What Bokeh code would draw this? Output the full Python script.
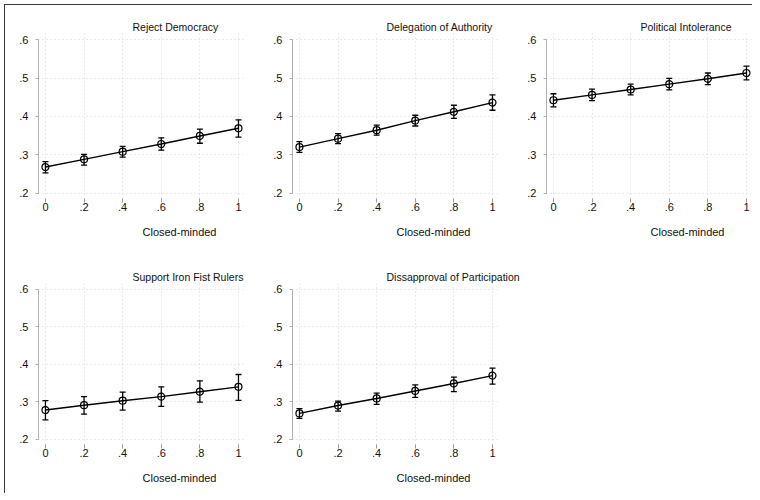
from bokeh.plotting import figure
from bokeh.layouts import column, row
from bokeh.models import (ColumnDataSource, Whisker, TeeHead, FixedTicker, Range1d,
                          Title, InlineStyleSheet)
from bokeh.embed import file_html
from bokeh.resources import INLINE

# ---------------- data ----------------
x_vals = [0.0, 0.2, 0.4, 0.6, 0.8, 1.0]
x_tick_labels = ["0", ".2", ".4", ".6", ".8", "1"]
y_ticks = [0.2, 0.3, 0.4, 0.5, 0.6]
y_tick_labels = [".2", ".3", ".4", ".5", ".6"]
x_title = "Closed-minded"

titles = ["Reject Democracy", "Delegation of Authority", "Political Intolerance",
          "Support Iron Fist Rulers", "Dissapproval of Participation"]

reject_democracy = [0.268, 0.288, 0.308, 0.328, 0.349, 0.369]
reject_democracy_lo = [0.253, 0.273, 0.294, 0.312, 0.330, 0.346]
reject_democracy_hi = [0.282, 0.301, 0.322, 0.344, 0.367, 0.391]

delegation = [0.320, 0.342, 0.364, 0.389, 0.412, 0.436]
delegation_lo = [0.306, 0.329, 0.351, 0.375, 0.395, 0.416]
delegation_hi = [0.334, 0.355, 0.377, 0.403, 0.429, 0.456]

intolerance = [0.442, 0.456, 0.470, 0.484, 0.498, 0.513]
intolerance_lo = [0.425, 0.441, 0.456, 0.469, 0.483, 0.495]
intolerance_hi = [0.459, 0.471, 0.484, 0.499, 0.513, 0.531]

iron_fist = [0.278, 0.291, 0.303, 0.314, 0.327, 0.340]
iron_fist_lo = [0.252, 0.267, 0.278, 0.288, 0.299, 0.304]
iron_fist_hi = [0.303, 0.314, 0.326, 0.340, 0.356, 0.373]

participation = [0.269, 0.290, 0.309, 0.329, 0.349, 0.370]
participation_lo = [0.256, 0.275, 0.293, 0.312, 0.327, 0.347]
participation_hi = [0.282, 0.302, 0.323, 0.345, 0.366, 0.390]

series = [
    (reject_democracy, reject_democracy_lo, reject_democracy_hi),
    (delegation, delegation_lo, delegation_hi),
    (intolerance, intolerance_lo, intolerance_hi),
    (iron_fist, iron_fist_lo, iron_fist_hi),
    (participation, participation_lo, participation_hi),
]

FONT = "Liberation Sans"

# width, height, left, right, top, bottom borders
sizes = [
    (257, 254, 33, 19, 28, 61),
    (254, 254, 30, 19, 28, 61),
    (236, 254, 30, 1, 28, 61),
    (257, 234, 33, 19, 24, 45),
    (275, 234, 30, 40, 24, 45),
]


def make_panel(i):
    w, h, bl, br, bt, bb = sizes[i]
    vals, lo, hi = series[i]
    p = figure(width=w, height=h, output_backend="svg", toolbar_location=None,
               x_range=Range1d(-0.036, 1.026), y_range=Range1d(0.186, 0.616),
               min_border_left=bl, min_border_right=br,
               min_border_top=bt, min_border_bottom=bb)
    p.outline_line_color = None
    p.background_fill_color = "white"
    p.border_fill_color = "white"

    p.title = Title(text=titles[i], align="left", offset=94, standoff=1,
                    text_font=FONT, text_font_size="10.5px", text_font_style="normal",
                    text_color="#111111")

    src = ColumnDataSource(dict(x=x_vals, y=vals, lo=lo, hi=hi))
    p.line("x", "y", source=src, line_color="black", line_width=1.4)
    wh = Whisker(base="x", lower="lo", upper="hi", source=src,
                 line_color="black", line_width=1.3,
                 lower_head=TeeHead(size=6, line_color="black", line_width=1.3),
                 upper_head=TeeHead(size=6, line_color="black", line_width=1.3))
    p.add_layout(wh)
    p.scatter("x", "y", source=src, marker="circle", size=7,
              fill_alpha=0, line_color="black", line_width=1.2)

    # grids
    for g in (p.xgrid, p.ygrid):
        g.grid_line_color = "#d4d4d4"
        g.grid_line_dash = "1 3"
        g.grid_line_width = 1
    p.xgrid.ticker = FixedTicker(ticks=x_vals)
    p.ygrid.ticker = FixedTicker(ticks=y_ticks)

    # x axis
    xa = p.xaxis[0]
    xa.ticker = FixedTicker(ticks=x_vals)
    xa.major_label_overrides = {v: s for v, s in zip(x_vals, x_tick_labels)}
    xa.axis_line_color = None
    xa.major_tick_line_color = "#9a9a9a"
    xa.major_tick_out = 4
    xa.major_tick_in = 0
    xa.minor_tick_line_color = None
    xa.major_label_standoff = 0
    xa.major_label_text_font = FONT
    xa.major_label_text_font_size = "11px"
    xa.major_label_text_color = "#111111"

    # x-axis title, starting at the middle of the panel
    p.add_layout(Title(text=x_title, align="left", offset=104, standoff=20,
                       text_font=FONT, text_font_size="11px",
                       text_font_style="normal", text_color="#111111"), "below")

    # y axis
    ya = p.yaxis[0]
    ya.ticker = FixedTicker(ticks=y_ticks)
    ya.major_label_overrides = {v: s for v, s in zip(y_ticks, y_tick_labels)}
    ya.bounds = (0.2, 0.6)
    ya.axis_line_color = "#b0b0b0"
    ya.axis_line_width = 1
    ya.major_tick_line_color = "#b0b0b0"
    ya.major_tick_out = 3
    ya.major_tick_in = 0
    ya.minor_tick_line_color = None
    ya.major_label_standoff = 7
    ya.major_label_orientation = "horizontal"
    ya.major_label_text_font = FONT
    ya.major_label_text_font_size = "11px"
    ya.major_label_text_color = "#111111"
    return p


panels = [make_panel(i) for i in range(5)]
frame_css = InlineStyleSheet(css=":host { margin-left: 4px; margin-top: 4px; "
                                 "border-left: 1px solid #3a3a3a; border-top: 1px solid #3a3a3a; "
                                 "border-bottom: none; border-right: none; }")
layout = column(row(panels[0], panels[1], panels[2]),
                row(panels[3], panels[4]),
                stylesheets=[frame_css])

open("out.html", "w").write(file_html(layout, INLINE))
